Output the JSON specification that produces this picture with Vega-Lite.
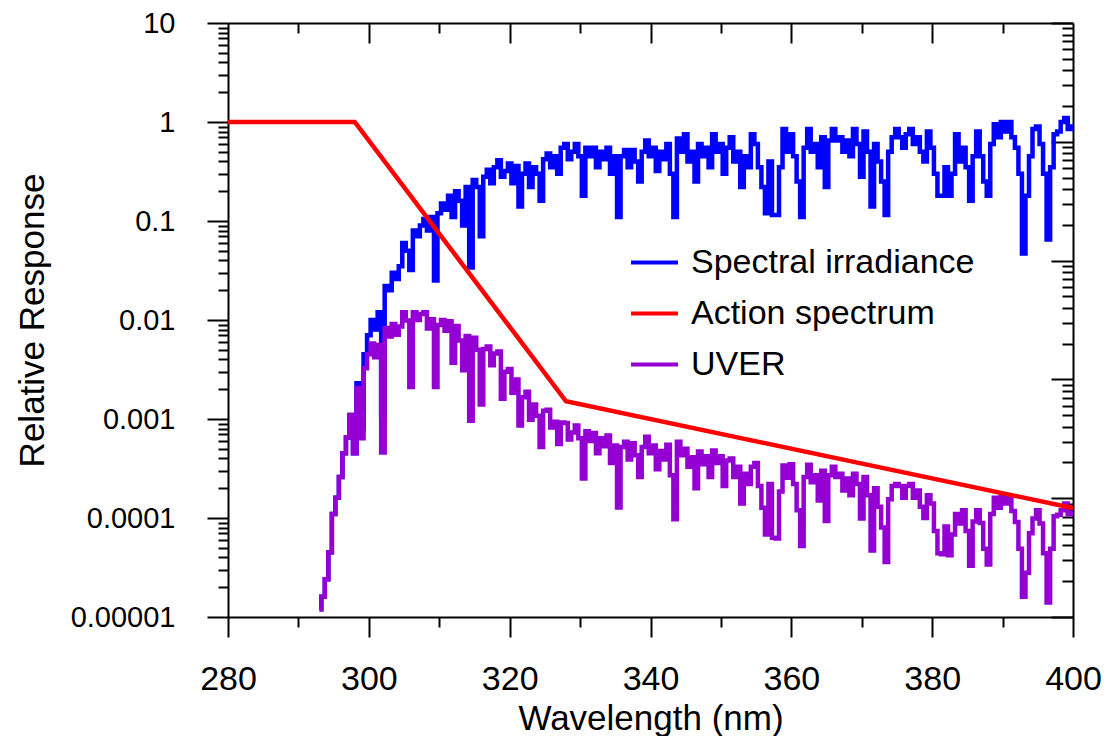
{
"$schema": "https://vega.github.io/schema/vega-lite/v6.json",
"width": 845,
"height": 594,
"autosize": {"type": "none"},
"padding": {"left": 228, "top": 23, "right": 31, "bottom": 119},
"background": "#ffffff",
"config": {
  "view": {"stroke": null},
  "font": "Liberation Sans",
  "axis": {"domainColor": "#000", "domainWidth": 2, "tickColor": "#000", "tickWidth": 2, "labelColor": "#000", "titleColor": "#000", "labelFont": "Liberation Sans", "titleFont": "Liberation Sans", "titleFontWeight": "normal", "grid": false}
},
"datasets": {
"act": [{"x":280,"y":1},{"x":298,"y":1},{"x":328,"y":0.00151},{"x":400,"y":0.000126}],
"irr": [
{"x":293,"y":1.2e-5},{"x":293.5,"y":1.6e-5},{"x":294,"y":2.4e-5},{"x":294.5,"y":4.5e-5},{"x":295,"y":1.1e-4},{"x":295.5,"y":1.6e-4},{"x":296,"y":2.6e-4},{"x":296.5,"y":4.5e-4},{"x":297,"y":6.5e-4},{"x":297.5,"y":1.1e-3},
{"x":298,"y":4.5e-4},{"x":298.5,"y":2.3e-3},{"x":299,"y":8e-4},{"x":299.5,"y":4.5e-3},{"x":300,"y":7e-3},{"x":300.5,"y":1e-2},{"x":301,"y":8e-3},{"x":301.5,"y":1.2e-2},{"x":302,"y":1.1e-3},{"x":302.5,"y":2.2e-2},
{"x":303,"y":2e-2},{"x":303.5,"y":3e-2},{"x":304,"y":2.6e-2},{"x":304.5,"y":3.5e-2},{"x":305,"y":6e-2},{"x":305.5,"y":5e-2},{"x":306,"y":3.2e-2},{"x":306.5,"y":8e-2},{"x":307,"y":7e-2},{"x":307.5,"y":9e-2},
{"x":308,"y":0.105},{"x":308.5,"y":0.08},{"x":309,"y":0.11},{"x":309.5,"y":0.025},{"x":310,"y":0.12},{"x":310.5,"y":0.15},{"x":311,"y":0.13},{"x":311.5,"y":0.18},{"x":312,"y":0.11},{"x":312.5,"y":0.2},
{"x":313,"y":0.16},{"x":313.5,"y":0.09},{"x":314,"y":0.22},{"x":314.5,"y":0.034},{"x":315,"y":0.26},{"x":315.5,"y":0.22},{"x":316,"y":0.07},{"x":316.5,"y":0.28},{"x":317,"y":0.33},{"x":317.5,"y":0.24},
{"x":318,"y":0.35},{"x":318.5,"y":0.41},{"x":319,"y":0.28},{"x":319.5,"y":0.32},{"x":320,"y":0.38},{"x":320.5,"y":0.24},{"x":321,"y":0.36},{"x":321.5,"y":0.14},{"x":322,"y":0.3},{"x":322.5,"y":0.38},
{"x":323,"y":0.22},{"x":323.5,"y":0.35},{"x":324,"y":0.3},{"x":324.5,"y":0.16},{"x":325,"y":0.42},{"x":325.5,"y":0.48},{"x":326,"y":0.35},{"x":326.5,"y":0.45},{"x":327,"y":0.3},{"x":327.5,"y":0.55},
{"x":328,"y":0.6},{"x":328.5,"y":0.42},{"x":329,"y":0.5},{"x":329.5,"y":0.6},{"x":330,"y":0.45},{"x":330.5,"y":0.18},{"x":331,"y":0.55},{"x":331.5,"y":0.45},{"x":332,"y":0.55},{"x":332.5,"y":0.35},
{"x":333,"y":0.5},{"x":333.5,"y":0.42},{"x":334,"y":0.55},{"x":334.5,"y":0.3},{"x":335,"y":0.45},{"x":335.5,"y":0.11},{"x":336,"y":0.45},{"x":336.5,"y":0.52},{"x":337,"y":0.35},{"x":337.5,"y":0.52},
{"x":338,"y":0.4},{"x":338.5,"y":0.25},{"x":339,"y":0.5},{"x":339.5,"y":0.65},{"x":340,"y":0.45},{"x":340.5,"y":0.55},{"x":341,"y":0.32},{"x":341.5,"y":0.5},{"x":342,"y":0.42},{"x":342.5,"y":0.6},
{"x":343,"y":0.3},{"x":343.5,"y":0.11},{"x":344,"y":0.68},{"x":344.5,"y":0.5},{"x":345,"y":0.75},{"x":345.5,"y":0.4},{"x":346,"y":0.5},{"x":346.5,"y":0.25},{"x":347,"y":0.6},{"x":347.5,"y":0.45},
{"x":348,"y":0.55},{"x":348.5,"y":0.35},{"x":349,"y":0.75},{"x":349.5,"y":0.5},{"x":350,"y":0.6},{"x":350.5,"y":0.3},{"x":351,"y":0.55},{"x":351.5,"y":0.7},{"x":352,"y":0.4},{"x":352.5,"y":0.5},
{"x":353,"y":0.22},{"x":353.5,"y":0.45},{"x":354,"y":0.35},{"x":354.5,"y":0.75},{"x":355,"y":0.6},{"x":355.5,"y":0.35},{"x":356,"y":0.22},{"x":356.5,"y":0.12},{"x":357,"y":0.4},{"x":357.5,"y":0.115},
{"x":358,"y":0.115},{"x":358.5,"y":0.35},{"x":359,"y":0.85},{"x":359.5,"y":0.5},{"x":360,"y":0.75},{"x":360.5,"y":0.45},{"x":361,"y":0.25},{"x":361.5,"y":0.11},{"x":362,"y":0.55},{"x":362.5,"y":0.85},
{"x":363,"y":0.5},{"x":363.5,"y":0.6},{"x":364,"y":0.35},{"x":364.5,"y":0.7},{"x":365,"y":0.22},{"x":365.5,"y":0.65},{"x":366,"y":0.85},{"x":366.5,"y":0.65},{"x":367,"y":0.7},{"x":367.5,"y":0.5},
{"x":368,"y":0.65},{"x":368.5,"y":0.45},{"x":369,"y":0.85},{"x":369.5,"y":0.6},{"x":370,"y":0.28},{"x":370.5,"y":0.8},{"x":371,"y":0.5},{"x":371.5,"y":0.14},{"x":372,"y":0.6},{"x":372.5,"y":0.4},
{"x":373,"y":0.25},{"x":373.5,"y":0.115},{"x":374,"y":0.5},{"x":374.5,"y":0.7},{"x":375,"y":0.85},{"x":375.5,"y":0.7},{"x":376,"y":0.55},{"x":376.5,"y":0.75},{"x":377,"y":0.85},{"x":377.5,"y":0.6},
{"x":378,"y":0.7},{"x":378.5,"y":0.5},{"x":379,"y":0.4},{"x":379.5,"y":0.8},{"x":380,"y":0.55},{"x":380.5,"y":0.3},{"x":381,"y":0.18},{"x":381.5,"y":0.18},{"x":382,"y":0.35},{"x":382.5,"y":0.18},
{"x":383,"y":0.3},{"x":383.5,"y":0.75},{"x":384,"y":0.4},{"x":384.5,"y":0.55},{"x":385,"y":0.35},{"x":385.5,"y":0.16},{"x":386,"y":0.45},{"x":386.5,"y":0.8},{"x":387,"y":0.45},{"x":387.5,"y":0.25},
{"x":388,"y":0.18},{"x":388.5,"y":0.6},{"x":389,"y":0.95},{"x":389.5,"y":0.7},{"x":390,"y":1.0},{"x":390.5,"y":0.8},{"x":391,"y":1.0},{"x":391.5,"y":0.7},{"x":392,"y":0.55},{"x":392.5,"y":0.3},
{"x":393,"y":0.047},{"x":393.5,"y":0.18},{"x":394,"y":0.45},{"x":394.5,"y":0.85},{"x":395,"y":0.9},{"x":395.5,"y":0.6},{"x":396,"y":0.3},{"x":396.5,"y":0.065},{"x":397,"y":0.35},{"x":397.5,"y":0.75},
{"x":398,"y":0.8},{"x":398.5,"y":1.0},{"x":399,"y":1.1},{"x":399.5,"y":0.85},{"x":400,"y":0.9}
],
"uver": [
{"x":293,"y":1.2e-5},{"x":293.5,"y":1.6e-5},{"x":294,"y":2.4e-5},{"x":294.5,"y":4.5e-5},{"x":295,"y":1.1e-4},{"x":295.5,"y":1.6e-4},{"x":296,"y":2.6e-4},{"x":296.5,"y":4.5e-4},{"x":297,"y":6.5e-4},{"x":297.5,"y":1.1e-3},
{"x":298,"y":4.5e-4},{"x":298.5,"y":2.06e-3},{"x":299,"y":6.4e-4},{"x":299.5,"y":3.25e-3},{"x":300,"y":4.5e-3},{"x":300.5,"y":5.8e-3},{"x":301,"y":4.2e-3},{"x":301.5,"y":5.6e-3},{"x":302,"y":4.6e-4},{"x":302.5,"y":8.3e-3},
{"x":303,"y":6.8e-3},{"x":303.5,"y":9.1e-3},{"x":304,"y":7.1e-3},{"x":304.5,"y":8.6e-3},{"x":305,"y":1.2e-2},{"x":305.5,"y":9.9e-3},{"x":306,"y":2.1e-3},{"x":306.5,"y":1.2e-2},{"x":307,"y":1.0e-2},{"x":307.5,"y":1.15e-2},
{"x":308,"y":1.2e-2},{"x":308.5,"y":8.2e-3},{"x":309,"y":1.02e-2},{"x":309.5,"y":2.1e-3},{"x":310,"y":8.9e-3},{"x":310.5,"y":1.0e-2},{"x":311,"y":7.8e-3},{"x":311.5,"y":9.7e-3},{"x":312,"y":3.7e-3},{"x":312.5,"y":8.7e-3},
{"x":313,"y":6.2e-3},{"x":313.5,"y":3.1e-3},{"x":314,"y":6.9e-3},{"x":314.5,"y":9.6e-4},{"x":315,"y":6.6e-3},{"x":315.5,"y":5.0e-3},{"x":316,"y":1.4e-3},{"x":316.5,"y":5.1e-3},{"x":317,"y":5.4e-3},{"x":317.5,"y":3.5e-3},
{"x":318,"y":4.6e-3},{"x":318.5,"y":4.8e-3},{"x":319,"y":1.6e-3},{"x":319.5,"y":3.0e-3},{"x":320,"y":3.2e-3},{"x":320.5,"y":1.84e-3},{"x":321,"y":2.5e-3},{"x":321.5,"y":8.6e-4},{"x":322,"y":1.66e-3},{"x":322.5,"y":1.89e-3},
{"x":323,"y":9.8e-4},{"x":323.5,"y":1.4e-3},{"x":324,"y":1.08e-3},{"x":324.5,"y":5.2e-4},{"x":325,"y":1.21e-3},{"x":325.5,"y":1.24e-3},{"x":326,"y":8.2e-4},{"x":326.5,"y":9.4e-4},{"x":327,"y":5.6e-4},{"x":327.5,"y":9.2e-4},
{"x":328,"y":9.1e-4},{"x":328.5,"y":6.2e-4},{"x":329,"y":7.3e-4},{"x":329.5,"y":8.6e-4},{"x":330,"y":6.4e-4},{"x":330.5,"y":2.5e-4},{"x":331,"y":7.5e-4},{"x":331.5,"y":6.0e-4},{"x":332,"y":7.2e-4},{"x":332.5,"y":4.5e-4},
{"x":333,"y":6.4e-4},{"x":333.5,"y":5.3e-4},{"x":334,"y":6.8e-4},{"x":334.5,"y":3.6e-4},{"x":335,"y":5.4e-4},{"x":335.5,"y":1.28e-4},{"x":336,"y":5.2e-4},{"x":336.5,"y":5.9e-4},{"x":337,"y":3.9e-4},{"x":337.5,"y":5.7e-4},
{"x":338,"y":4.3e-4},{"x":338.5,"y":2.6e-4},{"x":339,"y":5.2e-4},{"x":339.5,"y":6.6e-4},{"x":340,"y":4.5e-4},{"x":340.5,"y":5.4e-4},{"x":341,"y":3.1e-4},{"x":341.5,"y":4.75e-4},{"x":342,"y":3.9e-4},{"x":342.5,"y":5.5e-4},
{"x":343,"y":2.7e-4},{"x":343.5,"y":9.7e-5},{"x":344,"y":5.9e-4},{"x":344.5,"y":4.3e-4},{"x":345,"y":5.0e-4},{"x":345.5,"y":3.3e-4},{"x":346,"y":4.1e-4},{"x":346.5,"y":2.0e-4},{"x":347,"y":4.7e-4},{"x":347.5,"y":3.5e-4},
{"x":348,"y":4.2e-4},{"x":348.5,"y":2.6e-4},{"x":349,"y":4.8e-4},{"x":349.5,"y":3.6e-4},{"x":350,"y":4.2e-4},{"x":350.5,"y":2.1e-4},{"x":351,"y":3.8e-4},{"x":351.5,"y":4.0e-4},{"x":352,"y":2.6e-4},{"x":352.5,"y":3.3e-4},
{"x":353,"y":1.4e-4},{"x":353.5,"y":2.8e-4},{"x":354,"y":2.2e-4},{"x":354.5,"y":3.3e-4},{"x":355,"y":3.6e-4},{"x":355.5,"y":2.1e-4},{"x":356,"y":1.27e-4},{"x":356.5,"y":6.8e-5},{"x":357,"y":2.2e-4},{"x":357.5,"y":6.3e-5},
{"x":358,"y":6.2e-5},{"x":358.5,"y":1.85e-4},{"x":359,"y":3.4e-4},{"x":359.5,"y":2.55e-4},{"x":360,"y":3.5e-4},{"x":360.5,"y":2.2e-4},{"x":361,"y":1.2e-4},{"x":361.5,"y":5.2e-5},{"x":362,"y":2.6e-4},{"x":362.5,"y":3.45e-4},
{"x":363,"y":2.3e-4},{"x":363.5,"y":2.7e-4},{"x":364,"y":1.5e-4},{"x":364.5,"y":3.0e-4},{"x":365,"y":9.3e-5},{"x":365.5,"y":2.7e-4},{"x":366,"y":3.3e-4},{"x":366.5,"y":2.6e-4},{"x":367,"y":2.8e-4},{"x":367.5,"y":1.9e-4},
{"x":368,"y":2.5e-4},{"x":368.5,"y":1.7e-4},{"x":369,"y":2.8e-4},{"x":369.5,"y":2.2e-4},{"x":370,"y":9.9e-5},{"x":370.5,"y":2.6e-4},{"x":371,"y":1.7e-4},{"x":371.5,"y":4.7e-5},{"x":372,"y":2.0e-4},{"x":372.5,"y":1.3e-4},
{"x":373,"y":8.0e-5},{"x":373.5,"y":3.6e-5},{"x":374,"y":1.55e-4},{"x":374.5,"y":2.1e-4},{"x":375,"y":2.2e-4},{"x":375.5,"y":2.1e-4},{"x":376,"y":1.6e-4},{"x":376.5,"y":2.1e-4},{"x":377,"y":2.2e-4},{"x":377.5,"y":1.6e-4},
{"x":378,"y":1.9e-4},{"x":378.5,"y":1.3e-4},{"x":379,"y":1.0e-4},{"x":379.5,"y":1.7e-4},{"x":380,"y":1.4e-4},{"x":380.5,"y":7.4e-5},{"x":381,"y":4.4e-5},{"x":381.5,"y":4.3e-5},{"x":382,"y":8.2e-5},{"x":382.5,"y":4.2e-5},
{"x":383,"y":6.8e-5},{"x":383.5,"y":1.1e-4},{"x":384,"y":8.8e-5},{"x":384.5,"y":1.2e-4},{"x":385,"y":7.4e-5},{"x":385.5,"y":3.3e-5},{"x":386,"y":9.2e-5},{"x":386.5,"y":1.2e-4},{"x":387,"y":8.9e-5},{"x":387.5,"y":4.9e-5},
{"x":388,"y":3.4e-5},{"x":388.5,"y":1.1e-4},{"x":389,"y":1.6e-4},{"x":389.5,"y":1.27e-4},{"x":390,"y":1.7e-4},{"x":390.5,"y":1.4e-4},{"x":391,"y":1.63e-4},{"x":391.5,"y":1.18e-4},{"x":392,"y":9.1e-5},{"x":392.5,"y":4.9e-5},
{"x":393,"y":1.6e-5},{"x":393.5,"y":2.8e-5},{"x":394,"y":7.0e-5},{"x":394.5,"y":9.9e-5},{"x":395,"y":1.2e-4},{"x":395.5,"y":8.8e-5},{"x":396,"y":4.4e-5},{"x":396.5,"y":1.4e-5},{"x":397,"y":4.9e-5},{"x":397.5,"y":1.04e-4},
{"x":398,"y":1.08e-4},{"x":398.5,"y":1.2e-4},{"x":399,"y":1.4e-4},{"x":399.5,"y":1.09e-4},{"x":400,"y":1.13e-4}
]
},
"layer": [
 {
  "layer": [
   {
    "data": {"name": "irr"},
    "mark": {"type": "line", "interpolate": "step", "strokeWidth": 4.5, "clip": true},
    "encoding": {
     "x": {"field": "x", "type": "quantitative", "scale": {"domain": [280, 400], "nice": false, "zero": false},
       "axis": {"orient": "bottom", "title": "Wavelength (nm)", "values": [280,290,300,310,320,330,340,350,360,370,380,390,400], "format": "d",
         "labelExpr": "datum.value % 20 === 0 ? datum.label : ''",
         "tickSize": {"condition": {"test": "datum.value % 20 === 0", "value": 20}, "value": 10},
         "labelFontSize": 34, "labelPadding": 25, "titleFontSize": 35, "titlePadding": 5, "labelOverlap": false, "labelFlush": false}},
     "y": {"field": "y", "type": "quantitative", "scale": {"type": "log", "domain": [0.00001, 10], "nice": false},
       "axis": {"orient": "left", "title": "Relative Response",
         "values": [0.00001,0.00002,0.00003,0.00004,0.00005,0.00006,0.00007,0.00008,0.00009,0.0001,0.0002,0.0003,0.0004,0.0005,0.0006,0.0007,0.0008,0.0009,0.001,0.002,0.003,0.004,0.005,0.006,0.007,0.008,0.009,0.01,0.02,0.03,0.04,0.05,0.06,0.07,0.08,0.09,0.1,0.2,0.3,0.4,0.5,0.6,0.7,0.8,0.9,1,2,3,4,5,6,7,8,9,10],
         "format": ".5~f",
         "labelExpr": "abs(log(datum.value)/LN10 - round(log(datum.value)/LN10)) < 0.001 ? datum.label : ''",
         "tickSize": {"condition": {"test": "abs(log(datum.value)/LN10 - round(log(datum.value)/LN10)) < 0.001", "value": 21}, "value": 10},
         "labelFontSize": 29, "labelPadding": 32, "titleFontSize": 35, "titlePadding": 20, "labelOverlap": false, "labelFlush": false}},
     "color": {"datum": "Spectral irradiance", "type": "nominal",
       "scale": {"domain": ["Spectral irradiance", "Action spectrum", "UVER"], "range": ["#0000ff", "#ff0000", "#9400d3"]},
       "legend": {"orient": "none", "legendX": 401, "legendY": 214, "title": null, "symbolType": "stroke", "symbolSize": 2209, "symbolStrokeWidth": 4,
         "labelFontSize": 34, "labelFont": "Liberation Sans", "labelColor": "#000", "labelOffset": 11, "rowPadding": 8, "padding": 0, "labelLimit": 0}}
    }
   },
   {
    "data": {"name": "uver"},
    "mark": {"type": "line", "interpolate": "step", "strokeWidth": 4.5, "clip": true},
    "encoding": {
     "x": {"field": "x", "type": "quantitative", "scale": {"domain": [280, 400], "nice": false, "zero": false},
       "axis": {"orient": "top", "title": null, "labels": false, "values": [290,300,310,320,330,340,350,360,370,380,390],
         "tickSize": {"condition": {"test": "datum.value % 20 === 0", "value": -20}, "value": -10}}},
     "y": {"field": "y", "type": "quantitative", "scale": {"type": "log", "domain": [0.00001, 10], "nice": false}, "axis": null},
     "color": {"datum": "UVER", "type": "nominal"}
    }
   },
   {
    "data": {"name": "act"},
    "mark": {"type": "line", "strokeWidth": 4.5, "clip": true},
    "encoding": {
     "x": {"field": "x", "type": "quantitative", "axis": null},
     "y": {"field": "y", "type": "quantitative", "scale": {"type": "log", "domain": [0.00001, 10], "nice": false}, "axis": null},
     "color": {"datum": "Action spectrum", "type": "nominal"}
    }
   }
  ],
  "resolve": {"axis": {"x": "independent", "y": "independent"}}
 },
 {
  "data": {"name": "act"},
  "mark": {"type": "line", "opacity": 0},
  "encoding": {
   "x": {"field": "x", "type": "quantitative", "scale": {"domain": [280, 400], "nice": false, "zero": false}, "axis": null},
   "y": {"field": "y", "type": "quantitative", "scale": {"type": "log", "domain": [0.0001, 10], "nice": false},
     "axis": {"orient": "right", "title": null, "labels": false,
       "values": [0.0001,0.0002,0.0003,0.0004,0.0005,0.0006,0.0007,0.0008,0.0009,0.001,0.002,0.003,0.004,0.005,0.006,0.007,0.008,0.009,0.01,0.02,0.03,0.04,0.05,0.06,0.07,0.08,0.09,0.1,0.2,0.3,0.4,0.5,0.6,0.7,0.8,0.9,1,2,3,4,5,6,7,8,9,10],
       "tickSize": {"condition": {"test": "abs(log(datum.value)/LN10 - round(log(datum.value)/LN10)) < 0.001", "value": -22}, "value": -11}}}
  }
 }
],
"resolve": {"scale": {"y": "independent"}, "axis": {"y": "independent"}}
}
